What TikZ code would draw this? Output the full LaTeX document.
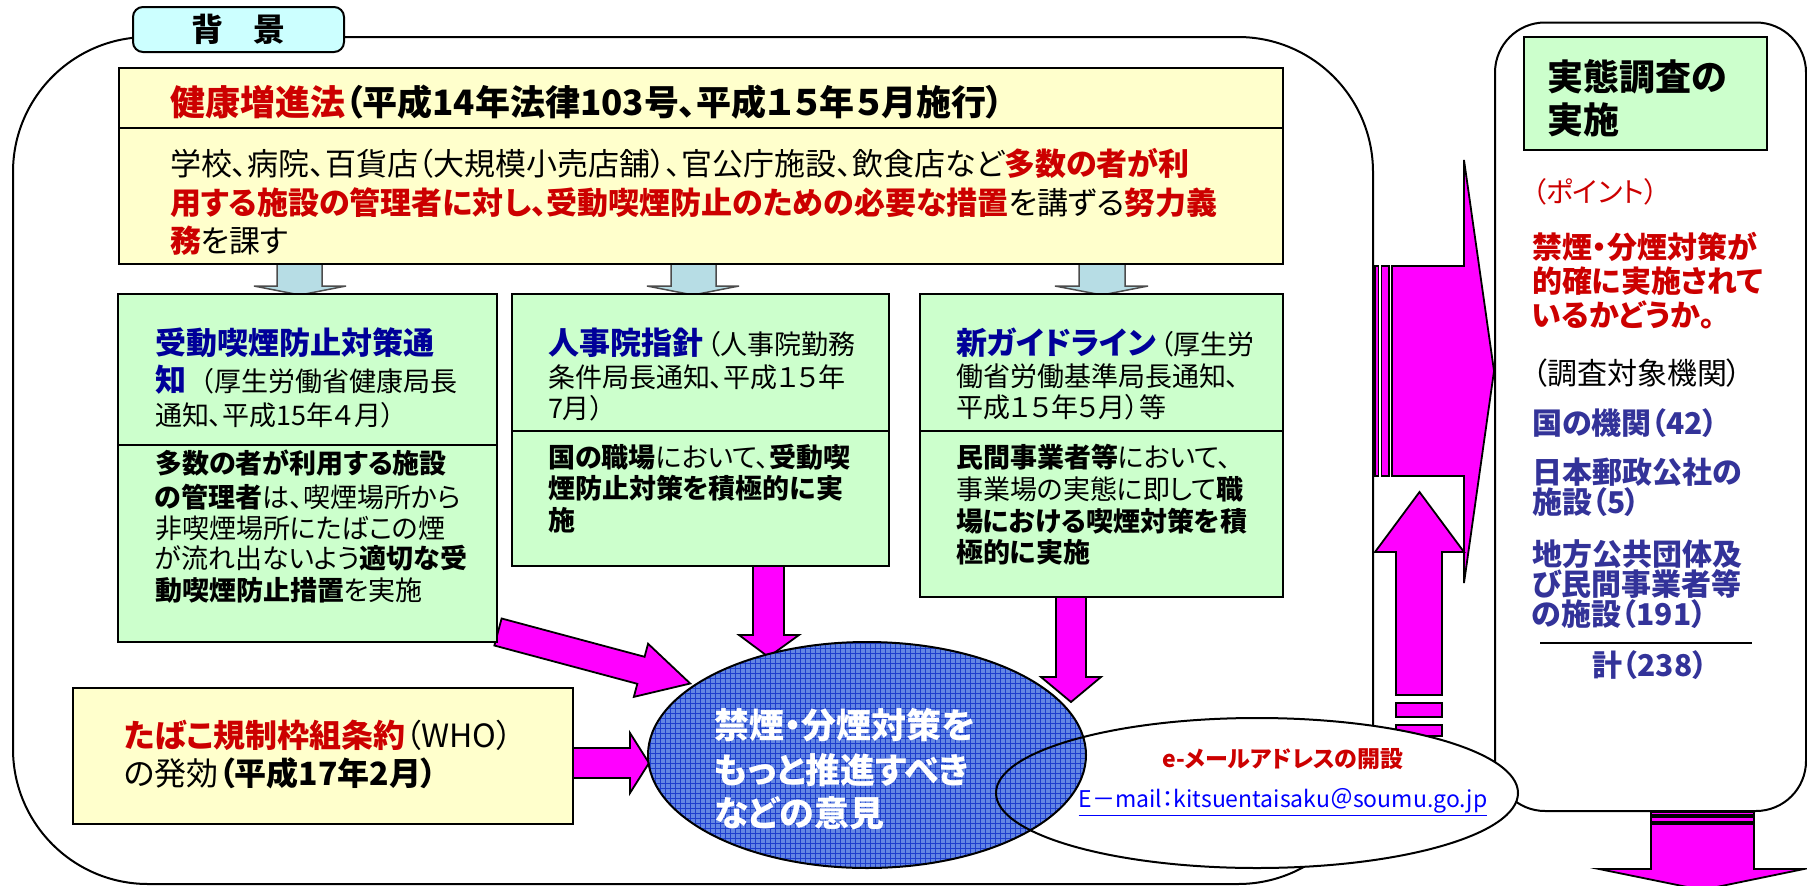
\documentclass[tikz,border=0pt]{standalone}
\usepackage{fontspec}
\setmainfont{Noto Sans CJK JP}[RawFeature=+palt]
\usetikzlibrary{shapes.geometric}
\definecolor{jred}{RGB}{204,0,0}
\definecolor{jblue}{RGB}{0,0,153}
\definecolor{pblue}{RGB}{51,51,153}
\definecolor{lyellow}{RGB}{255,255,204}
\definecolor{lgreen}{RGB}{204,255,204}
\definecolor{lcyan}{RGB}{204,255,255}
\definecolor{arrblue}{RGB}{183,221,229}
\definecolor{mag}{RGB}{255,0,255}
\definecolor{ellfill}{RGB}{100,135,228}
\definecolor{ellgrid}{RGB}{30,62,205}
\definecolor{linkblue}{RGB}{0,0,255}
\newcommand{\fsz}[1]{\fontsize{#1}{#1}\selectfont}
\newcommand{\jt}[5]{%
  \pgfmathsetmacro{\jth}{#4*0.84}\pgfmathsetmacro{\jtd}{#4*0.10}%
  \node[txt, text height=\jth pt, text depth=\jtd pt] (#1) at (#2,#3) {\fsz{#4}#5};}
\begin{document}
\begin{tikzpicture}[x=1pt,y=-1pt,
  txt/.style={anchor=base west, inner sep=0pt, outer sep=0pt},
  boxn/.style={draw=black, line width=2.4pt, anchor=north west, inner sep=0pt, outer sep=0pt},
  magarrow/.style={draw=black, fill=mag, line width=1.8pt, line join=miter},
  blarrow/.style={draw=black!70, fill=arrblue, line width=1.5pt, line join=miter}]
\useasboundingbox (0,0) rectangle (1807,886);

% main frame and right panel
\draw[line width=2pt, rounded corners=135pt] (13,37) rectangle (1373,884);
\draw[line width=2pt, rounded corners=50pt] (1495,22.5) rectangle (1806,811);

% light blue arrows
\draw[blarrow] (277,262) -- (277,286) -- (254,286) -- (300,295) -- (346,286) -- (322,286) -- (322,262);
\draw[blarrow] (671,262) -- (671,286) -- (647,286) -- (693,295) -- (739,286) -- (716,286) -- (716,262);
\draw[blarrow] (1079,262) -- (1079,286) -- (1055,286) -- (1102,295) -- (1148,286) -- (1125,286) -- (1125,262);

% magenta arrows
\draw[magarrow] (753,560) -- (753,635) -- (739,635) -- (768.5,657) -- (799,635) -- (784,635) -- (784,560) -- cycle;
\draw[magarrow] (1056,590) -- (1056,677) -- (1041,677) -- (1071,702) -- (1101,677) -- (1086,677) -- (1086,590) -- cycle;
\begin{scope}[shift={(498,632)}, rotate=-15]
\draw[magarrow] (0,-14) -- (148,-14) -- (148,-27.5) -- (199,0) -- (148,27.5) -- (148,14) -- (0,14) -- cycle;
\end{scope}
\draw[magarrow] (570,748) -- (630,748) -- (630,733) -- (649,763) -- (630,793) -- (630,778) -- (570,778) -- cycle;
% big right arrow
\draw[magarrow, line width=1.2pt] (1375,266) rectangle (1378.5,476);
\draw[magarrow, line width=1.2pt] (1381.5,266) rectangle (1389,476);
\draw[magarrow] (1392,266) -- (1464,266) -- (1464,160) -- (1494,371) -- (1464,583) -- (1464,476) -- (1392,476) -- cycle;
% up arrow
\draw[magarrow] (1396,695) -- (1396,552) -- (1375,552) -- (1419.5,492) -- (1464,552) -- (1442,552) -- (1442,695) -- cycle;
\draw[magarrow] (1396,703) rectangle (1442,717);
\draw[magarrow] (1396,725) rectangle (1442,736);
% down arrow
\draw[magarrow, line width=1.2pt] (1651,812) rectangle (1754,815);
\draw[magarrow, line width=1.2pt] (1651,817) rectangle (1754,822);
\draw[magarrow] (1651,824) -- (1651,869) -- (1599,869) -- (1702,890) -- (1804,869) -- (1754,869) -- (1754,824) -- cycle;

% boxes
\node[boxn, fill=lyellow, minimum width=1164pt, minimum height=196pt] (law) at (119,68) {};
\draw[line width=2pt] (119,128) -- (1283,128);
\node[boxn, fill=lgreen, minimum width=379pt, minimum height=348pt] (g1) at (118,294) {};
\draw[line width=2pt] (118,445) -- (497,445);
\node[boxn, fill=lgreen, minimum width=377pt, minimum height=272pt] (g2) at (512,294) {};
\draw[line width=2pt] (512,431) -- (889,431);
\node[boxn, fill=lgreen, minimum width=363pt, minimum height=303pt] (g3) at (920,294) {};
\draw[line width=2pt] (920,431) -- (1283,431);
\node[boxn, fill=lyellow, minimum width=500pt, minimum height=136pt] (who) at (73,688) {};
\node[boxn, fill=lgreen, minimum width=243pt, minimum height=113pt] (survey) at (1524,37) {};

% e-mail ellipse (white) and opinion ellipse
\node[ellipse, fill=white, minimum width=522pt, minimum height=150pt, inner sep=0pt] (mail) at (1257,793) {};
\begin{scope}
\clip (867,755) ellipse [x radius=219, y radius=113];
\fill[ellfill] (640,635) rectangle (1095,875);
\foreach \i in {0,...,91} \draw[ellgrid, line width=0.9pt] ({645+5*\i},638) -- ({645+5*\i},872);
\foreach \j in {0,...,47} \draw[ellgrid, line width=0.9pt] (645,{638+5*\j}) -- (1092,{638+5*\j});
\end{scope}
\node[ellipse, draw=black, line width=2pt, minimum width=438pt, minimum height=226pt, inner sep=0pt] (opinion) at (867,755) {};
\draw[line width=2pt] (mail.center) ellipse [x radius=261, y radius=75];

% tab
\node[draw=black, line width=2pt, fill=lcyan, rounded corners=10pt, minimum width=211pt, minimum height=45pt, inner sep=0pt] (tab) at (238.5,29.5) {\fsz{32}\bfseries 背\hspace{30pt}景};

% top law box text
\jt{lawh}{170}{115}{35}{\bfseries{\color{jred}健康増進法}（平成14年法律103号、平成１５年５月施行）}
\jt{lawa}{170}{175}{31}{学校、病院、百貨店（大規模小売店舗）、官公庁施設、飲食店など{\bfseries\color{jred}多数の者が利}}
\jt{lawb}{170}{214}{31}{{\bfseries\color{jred}用する施設の管理者に対し、受動喫煙防止のための必要な措置}を講ずる{\bfseries\color{jred}努力義}}
\jt{lawc}{170}{252}{31}{{\bfseries\color{jred}務}を課す}

% box 1
\jt{g1h}{155}{354}{31}{\bfseries\color{jblue}受動喫煙防止対策通}
\jt{g1i}{155}{391}{31}{{\bfseries\color{jblue}知}\kern1pt{\fsz{27}\addfontfeature{RawFeature=-palt}（}{\fsz{27}厚生労働省健康局長}}
\jt{g1j}{155}{425}{27}{通知、平成15年４月）}
\jt{g1a}{155}{473}{27}{\bfseries 多数の者が利用する施設}
\jt{g1b}{155}{507}{27}{{\bfseries の管理者}は、喫煙場所から}
\jt{g1c}{155}{538}{27}{非喫煙場所にたばこの煙}
\jt{g1d}{155}{568}{27}{が流れ出ないよう{\bfseries 適切な受}}
\jt{g1e}{155}{600}{27}{{\bfseries 動喫煙防止措置}を実施}

% box 2
\jt{g2h}{548}{354}{31}{{\bfseries\color{jblue}人事院指針}\kern4pt{\fsz{27}（人事院勤務}}
\jt{g2i}{548}{387}{27}{条件局長通知、平成１５年}
\jt{g2j}{548}{418}{27}{7月）}
\jt{g2a}{548}{467}{27}{{\bfseries 国の職場}において、{\bfseries 受動喫}}
\jt{g2b}{548}{498}{27}{\bfseries 煙防止対策を積極的に実}
\jt{g2c}{548}{530}{27}{\bfseries 施}

% box 3
\jt{g3h}{956}{354}{31}{{\bfseries\color{jblue}新ガイドライン}\kern4pt{\fsz{27}（厚生労}}
\jt{g3i}{956}{386}{27}{働省労働基準局長通知、}
\jt{g3j}{956}{417}{27}{平成１５年５月）等}
\jt{g3a}{956}{467}{27}{{\bfseries 民間事業者等}において、}
\jt{g3b}{956}{499}{27}{事業場の実態に即して{\bfseries 職}}
\jt{g3c}{956}{531}{27}{\bfseries 場における喫煙対策を積}
\jt{g3d}{956}{562}{27}{\bfseries 極的に実施}

% WHO box
\jt{whoa}{124}{747}{32}{{\bfseries\color{jred}たばこ規制枠組条約}（WHO）}
\jt{whob}{124}{785}{32}{の発効{\bfseries （平成17年2月）}}

% opinion text
\jt{opa}{714}{738}{35}{\bfseries\color{white}禁煙・分煙対策を}
\jt{opb}{714}{783}{35}{\bfseries\color{white}もっと推進すべき}
\jt{opc}{714}{826}{35}{\bfseries\color{white}などの意見}

% mail text
\node[inner sep=0pt] (mailh) at (1283,759) {\fsz{23}\bfseries\color{jred}e-メールアドレスの開設};
\node[inner sep=0pt] (maila) at (1283,802) {\fsz{23}\color{linkblue}\underline{E－mail：kitsuentaisaku＠soumu.go.jp}};

% right panel text
\jt{sva}{1547}{90}{36}{\bfseries 実態調査の}
\jt{svb}{1547}{133}{36}{\bfseries 実施}
\jt{pt}{1532}{202}{28}{\color{jred}（ポイント）}
\jt{pta}{1532}{258}{30}{\bfseries\color{jred}禁煙・分煙対策が}
\jt{ptb}{1532}{292}{30}{\bfseries\color{jred}的確に実施されて}
\jt{ptc}{1532}{326}{30}{\bfseries\color{jred}いるかどうか。}
\jt{tg}{1532}{384}{30}{（調査対象機関）}
\jt{tga}{1532}{434}{30}{\bfseries\color{pblue}国の機関（42）}
\jt{tgb}{1532}{483}{30}{\bfseries\color{pblue}日本郵政公社の}
\jt{tgc}{1532}{513}{30}{\bfseries\color{pblue}施設（5）}
\jt{tgd}{1532}{565}{30}{\bfseries\color{pblue}地方公共団体及}
\jt{tge}{1532}{595}{30}{\bfseries\color{pblue}び民間事業者等}
\jt{tgf}{1532}{625}{30}{\bfseries\color{pblue}の施設（191）}
\draw[line width=1.5pt] (1540,643) -- (1752,643);
\node[inner sep=0pt] (total) at (1650,665) {\fsz{30}\bfseries\color{pblue}計（238）};
\end{tikzpicture}
\end{document}
